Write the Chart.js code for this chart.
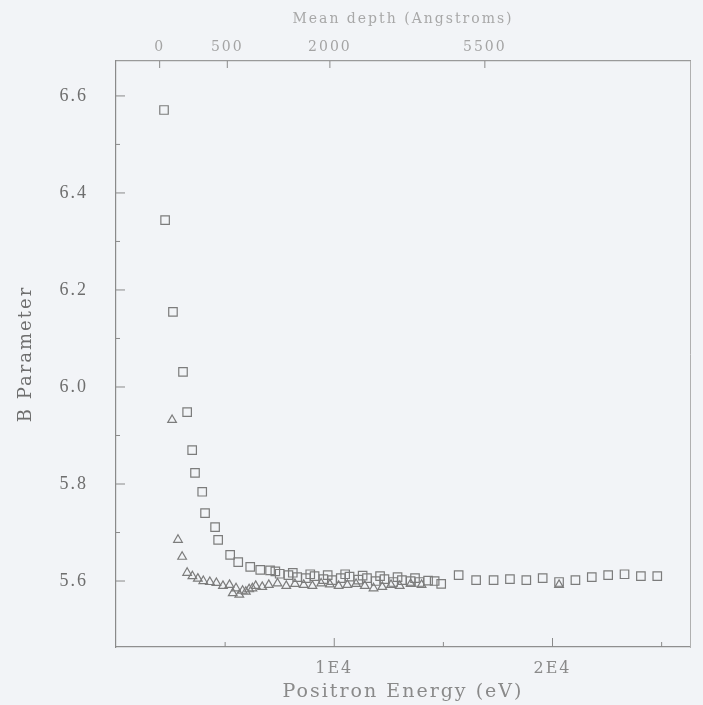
<!DOCTYPE html>
<html>
<head>
<meta charset="utf-8">
<script src="https://cdn.jsdelivr.net/npm/chart.js@4.4.1/dist/chart.umd.min.js"></script>
<style>
  html, body { margin: 0; padding: 0; background: #f2f4f7; }
  #wrap { width: 703px; height: 705px; }
</style>
</head>
<body>
<div id="wrap"><canvas id="chart" width="703" height="705"></canvas></div>
<script>
// positron energy (eV) and B parameter, square markers
const squareEnergy = [2200, 2250, 2610, 3070, 3260, 3490, 3620, 3950, 4080, 4540, 4680, 5230, 5600, 6150, 6610, 7060,
  7300, 7500, 7900, 8100, 8300, 8700, 8900, 9100, 9500, 9700, 9900, 10300, 10500, 10700, 11100, 11300, 11500, 11900, 12100,
  12300, 12700, 12900, 13100, 13500, 13700, 13900, 14300, 14600,
  14900, 15700, 16500, 17300, 18050, 18800, 19550, 20300, 21050, 21800, 22550, 23300, 24050, 24800];
const squareB = [6.571, 6.344, 6.155, 6.031, 5.948, 5.870, 5.823, 5.784, 5.740, 5.711, 5.685, 5.654, 5.639, 5.629, 5.623, 5.622,
  5.620, 5.615, 5.612, 5.617, 5.608, 5.606, 5.614, 5.610, 5.604, 5.612, 5.602, 5.606, 5.614, 5.609, 5.603, 5.611, 5.606, 5.600, 5.610,
  5.604, 5.598, 5.608, 5.602, 5.600, 5.606, 5.598, 5.601, 5.600,
  5.594, 5.612, 5.602, 5.602, 5.604, 5.602, 5.606, 5.598, 5.602, 5.608, 5.612, 5.614, 5.610, 5.610];

// triangle markers
const triangleEnergy = [2570, 2840, 3030, 3260, 3500, 3750, 4000, 4300, 4600, 4900, 5200, 5350, 5500, 5650, 5800, 5950, 6100, 6250,
  6400, 6700, 7000, 7400, 7800, 8200, 8600, 9000, 9400, 9800, 10200, 10600, 11000, 11400, 11800, 12200, 12600, 13000, 13500, 14000, 20300];
const triangleB = [5.932, 5.685, 5.650, 5.617, 5.610, 5.605, 5.600, 5.598, 5.596, 5.590, 5.592, 5.575, 5.585, 5.572, 5.580, 5.578, 5.583, 5.585,
  5.590, 5.588, 5.592, 5.595, 5.590, 5.594, 5.592, 5.590, 5.595, 5.593, 5.590, 5.592, 5.594, 5.590, 5.585, 5.588, 5.592, 5.590, 5.594, 5.592, 5.592];

// axis ticks
const yTickValues = [5.6, 5.8, 6.0, 6.2, 6.4, 6.6];
const xTickValues = [10000, 20000];
const xTickLabels = ['1E4', '2E4'];
const topTickValues = [2000, 5100, 9800, 16900];
const topTickLabels = ['0', '500', '2000', '5500'];

const inkColor = '#7c7c7c';
const serif = 'DejaVu Serif';

const toPoints = (xs, ys) => xs.map((x, i) => ({ x: x, y: ys[i] }));

// short ticks pointing into the plot, like the old plotter output
const inwardTicks = {
  id: 'inwardTicks',
  beforeDraw(chart) {
    chart.ctx.letterSpacing = '2px';
  },
  afterDraw(chart) {
    const ctx = chart.ctx;
    const { x, xTop, y } = chart.scales;
    ctx.save();
    ctx.strokeStyle = '#8a8a8a';
    ctx.lineWidth = 1;
    ctx.beginPath();
    yTickValues.forEach(v => {
      const py = y.getPixelForValue(v);
      ctx.moveTo(y.right, py); ctx.lineTo(y.right + 9, py);
      if (v + 0.1 < y.max) {
        const pm = y.getPixelForValue(v + 0.1);
        ctx.moveTo(y.right, pm); ctx.lineTo(y.right + 4, pm);
      }
    });
    [5000, 10000, 15000, 20000, 25000].forEach(v => {
      const px = x.getPixelForValue(v);
      const len = xTickValues.includes(v) ? 9 : 5;
      ctx.moveTo(px, x.top); ctx.lineTo(px, x.top - len);
    });
    topTickValues.forEach(v => {
      const px = xTop.getPixelForValue(v);
      ctx.moveTo(px, xTop.bottom); ctx.lineTo(px, xTop.bottom + 7);
    });
    ctx.stroke();
    ctx.restore();
  }
};

const ctx = document.getElementById('chart').getContext('2d');

new Chart(ctx, {
  type: 'scatter',
  data: {
    datasets: [
      {
        label: 'squares',
        data: toPoints(squareEnergy, squareB),
        pointStyle: 'rect',
        pointRadius: 6,
        borderColor: inkColor,
        borderWidth: 1.2,
        backgroundColor: 'rgba(0,0,0,0)'
      },
      {
        label: 'triangles',
        data: toPoints(triangleEnergy, triangleB),
        pointStyle: 'triangle',
        pointRadius: 5,
        borderColor: inkColor,
        borderWidth: 1.2,
        backgroundColor: 'rgba(0,0,0,0)'
      }
    ]
  },
  options: {
    responsive: false,
    animation: false,
    layout: { padding: { left: 0, right: 13, top: 0, bottom: 0 } },
    plugins: {
      legend: { display: false },
      tooltip: { enabled: false }
    },
    scales: {
      x: {
        type: 'linear',
        position: 'bottom',
        min: 0,
        max: 26300,
        afterBuildTicks: axis => { axis.ticks = xTickValues.map(v => ({ value: v })); },
        afterFit: axis => { axis.height = 58; },
        ticks: {
          callback: (v) => xTickLabels[xTickValues.indexOf(v)],
          color: '#8a8a8a',
          font: { family: serif, size: 16 },
          padding: 12,
          maxRotation: 0
        },
        grid: { display: false, drawTicks: false },
        border: { display: true, color: '#8f8f8f', width: 1.2 },
        title: {
          display: true,
          text: 'Positron Energy (eV)',
          color: '#8a8a8a',
          font: { family: serif, size: 19 },
          padding: { top: 0, bottom: 2 }
        }
      },
      xTop: {
        type: 'linear',
        position: 'top',
        min: 0,
        max: 26300,
        afterBuildTicks: axis => { axis.ticks = topTickValues.map(v => ({ value: v })); },
        afterFit: axis => { axis.height = 61; },
        ticks: {
          callback: (v) => topTickLabels[topTickValues.indexOf(v)],
          color: '#a4a4a4',
          font: { family: serif, size: 14 },
          padding: 5,
          maxRotation: 0
        },
        grid: { display: false, drawTicks: false },
        border: { display: true, color: '#9a9a9a', width: 1.2 },
        title: {
          display: true,
          text: 'Mean depth (Angstroms)',
          color: '#a8a8a8',
          font: { family: serif, size: 14 },
          padding: { top: 11, bottom: 0 }
        }
      },
      y: {
        type: 'linear',
        position: 'left',
        min: 5.464,
        max: 6.672,
        afterBuildTicks: axis => { axis.ticks = yTickValues.map(v => ({ value: v })); },
        afterFit: axis => { axis.width = 116; },
        ticks: {
          callback: (v) => v.toFixed(1),
          color: '#6e6e6e',
          font: { family: 'Liberation Serif', size: 18 },
          padding: 28
        },
        grid: { display: false, drawTicks: false },
        border: { display: true, color: '#8a8a8a', width: 1.2 },
        title: {
          display: true,
          text: 'B Parameter',
          color: '#6e6e6e',
          font: { family: serif, size: 18 },
          padding: { top: 16, bottom: 0 }
        }
      },
      yRight: {
        type: 'linear',
        position: 'right',
        min: 5.464,
        max: 6.672,
        afterFit: axis => { axis.width = 0; },
        ticks: { display: false },
        grid: { display: false, drawTicks: false },
        border: { display: true, color: '#b0b0b0', width: 1 }
      }
    }
  },
  plugins: [inwardTicks]
});
</script>
</body>
</html>
